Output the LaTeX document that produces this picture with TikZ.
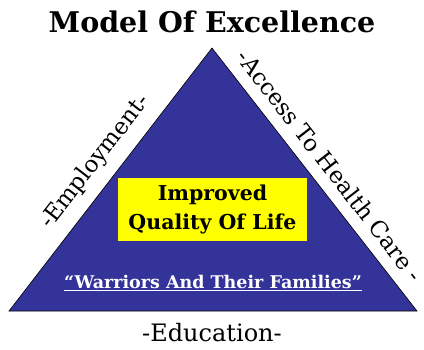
\documentclass[tikz,border=0pt]{standalone}
\usepackage{fontspec}
\setmainfont{DejaVu Serif}
\usetikzlibrary{positioning}
\definecolor{pyrblue}{RGB}{51,51,153}
\definecolor{boxyellow}{RGB}{255,255,0}

\begin{document}
\begin{tikzpicture}[x=1pt,y=-1pt,
      side/.style={font=\fontsize{23}{26}\selectfont,inner sep=0pt,anchor=base},
      goalbox/.style={fill=boxyellow,minimum width=189pt,minimum height=63pt,
                      font=\fontsize{20.5}{29}\selectfont\bfseries,align=center}
    ]
      \useasboundingbox (0,0) rectangle (424,349);
      % pyramid
      \coordinate (apex) at (212,48);
      \coordinate (bl) at (9,311);
      \coordinate (br) at (417,311);
      \draw[fill=pyrblue,line width=0.6pt] (bl) -- (apex) -- (br) -- cycle;
      % heading
      \node[font=\fontsize{28.5}{30}\selectfont\bfseries] (title) at (212,22) {Model Of Excellence};
      % inside the pyramid
      \node[goalbox] (goal) at (212.5,209.5) {Improved\\Quality Of Life};
      \node[font=\fontsize{17.5}{18}\selectfont\bfseries,text=white] (who) at (213,283)
        {\underline{“Warriors And Their Families”}};
      % the three sides
      \node[side,rotate=52.3] (emp) at (100.1,165.6) {-Employment-};
      \node[side,rotate=-52.1] (care) at (323.3,170.9) {-Access To Health Care -};
      \node[font=\fontsize{24}{26}\selectfont] (edu) at (212,333) {-Education-};
    \end{tikzpicture}
\end{document}
